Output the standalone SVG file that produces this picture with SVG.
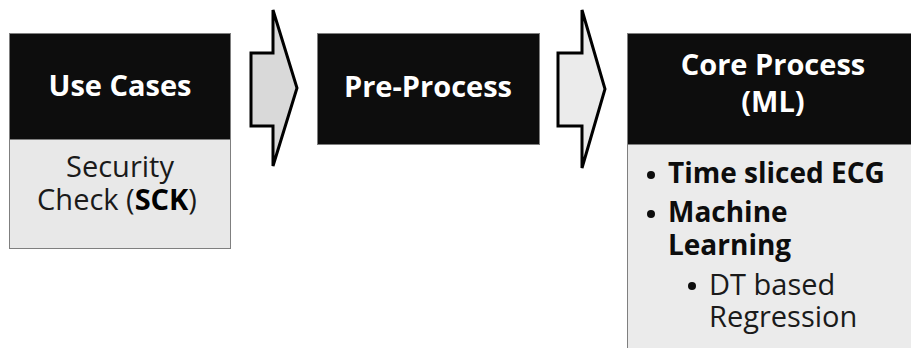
<svg xmlns="http://www.w3.org/2000/svg" width="911" height="348" viewBox="0 0 911 348">
<style>
.hdr{fill:#0d0d0d;stroke:#7f7f7f;stroke-width:1}
.body{fill:#e8e8e8;stroke:#7f7f7f;stroke-width:1}
.ht{font-family:"Open Sans","Liberation Sans",sans-serif;font-weight:bold;font-size:29px;fill:#ffffff;text-anchor:middle}
.bt{font-family:"Open Sans","Liberation Sans",sans-serif;font-size:29px;fill:#1a1a1a}
.bb{font-family:"Open Sans","Liberation Sans",sans-serif;font-size:28px;font-weight:bold;fill:#0d0d0d}
.arrow{stroke:#000000;stroke-width:3;stroke-linejoin:miter}
</style>
<rect width="911" height="348" fill="#ffffff"/>
<g id="use-cases">
<rect class="body" x="9.5" y="33.5" width="221" height="215"/>
<rect class="hdr" x="9.5" y="33.5" width="221" height="106"/>
<text class="ht" x="120" y="96">Use Cases</text>
<text class="bt" x="120" y="177" text-anchor="middle">Security</text>
<text class="bt" x="117" y="210" text-anchor="middle">Check (<tspan font-weight="bold" fill="#000">SCK</tspan>)</text>
</g>
<g id="pre-process">
<rect class="hdr" x="317.5" y="33.5" width="222" height="111"/>
<text class="ht" x="428" y="97">Pre-Process</text>
</g>
<g id="core-process">
<rect class="body" x="627.5" y="33.5" width="300" height="330" fill="#ebebeb" style="fill:#ebebeb"/>
<rect class="hdr" x="627.5" y="33.5" width="300" height="111"/>
<text class="ht" x="773" y="75">Core Process</text>
<text class="ht" x="773" y="112">(ML)</text>
<circle cx="651" cy="175" r="4" fill="#0d0d0d"/>
<text class="bb" x="668" y="183">Time sliced ECG</text>
<circle cx="651" cy="214" r="4" fill="#0d0d0d"/>
<text class="bb" x="668" y="222">Machine</text>
<text class="bb" x="668" y="255">Learning</text>
<circle cx="692" cy="286" r="4" fill="#0d0d0d"/>
<text class="bt" x="709" y="295">DT based</text>
<text class="bt" x="709" y="327">Regression</text>
</g>
<g id="connectors">
<polygon class="arrow" fill="#d9d9d9" points="251,53 273,53 273,10 297,88 273,166 273,126 251,126"/>
<polygon class="arrow" fill="#ebebeb" points="558,53 582,53 582,10 605,89 582,168 582,126 558,126"/>
</g>
</svg>
